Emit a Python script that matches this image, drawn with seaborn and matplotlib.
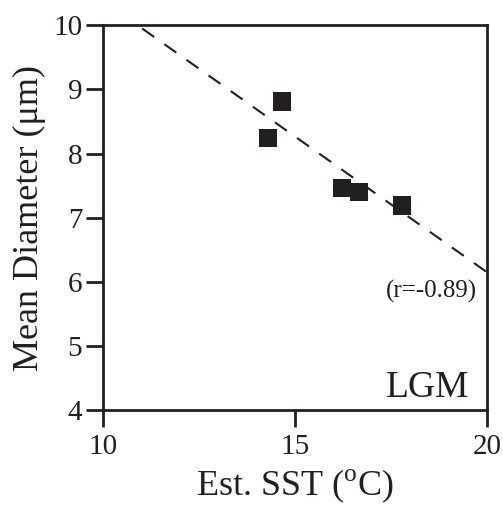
import numpy as np
import pandas as pd
import matplotlib
matplotlib.use('Agg')
import matplotlib.pyplot as plt
import seaborn as sns

# Data LGM
sst = [14.30, 14.66, 16.22, 16.67, 17.79]
diameter = [8.24, 8.81, 7.46, 7.40, 7.19]

# Garis regresi
fit_x = [10, 20]
fit_y = [10.38, 6.15]

df = pd.DataFrame({'SST': sst, 'Diameter': diameter})
fit = pd.DataFrame({'SST': fit_x, 'Diameter': fit_y})

sns.set_theme(style='ticks')
plt.rcParams['font.family'] = ['Liberation Serif', 'DejaVu Serif']
plt.rcParams['mathtext.fontset'] = 'custom'
plt.rcParams['mathtext.rm'] = 'Liberation Serif'

ink = '#231f20'
fig = plt.figure(figsize=(5.03, 5.05), dpi=100)
ax = fig.add_axes([0.205, 0.188, 0.763, 0.762])

sns.lineplot(data=fit, x='SST', y='Diameter', ax=ax, color=ink,
             linewidth=1.5, linestyle=(3, (7, 6)))
sns.scatterplot(data=df, x='SST', y='Diameter', ax=ax, marker='s', s=175,
                color=ink, edgecolor='none', zorder=3)

ax.set_xlim(10, 20)
ax.set_ylim(4, 10)
ax.set_xticks([10, 15, 20])
ax.set_yticks([4, 5, 6, 7, 8, 9, 10])
ax.tick_params(direction='out', length=12, width=2, color=ink,
               labelsize=21, labelcolor=ink, pad=3)
ax.tick_params(axis='x', pad=5)
for sp in ax.spines.values():
    sp.set_linewidth(2)
    sp.set_color(ink)

ax.set_xlabel(r'Est. SST ($^{\rm o}$C)', fontsize=26, color=ink, labelpad=6)
ax.set_ylabel('Mean Diameter (μm)', fontsize=26, color=ink, labelpad=5)

ax.text(19.74, 5.85, '(r=-0.89)', ha='right', va='center', fontsize=18, color=ink)
ax.text(19.53, 4.2, 'LGM', ha='right', va='baseline', fontsize=27, color=ink)

plt.savefig('out.png', dpi=100)
